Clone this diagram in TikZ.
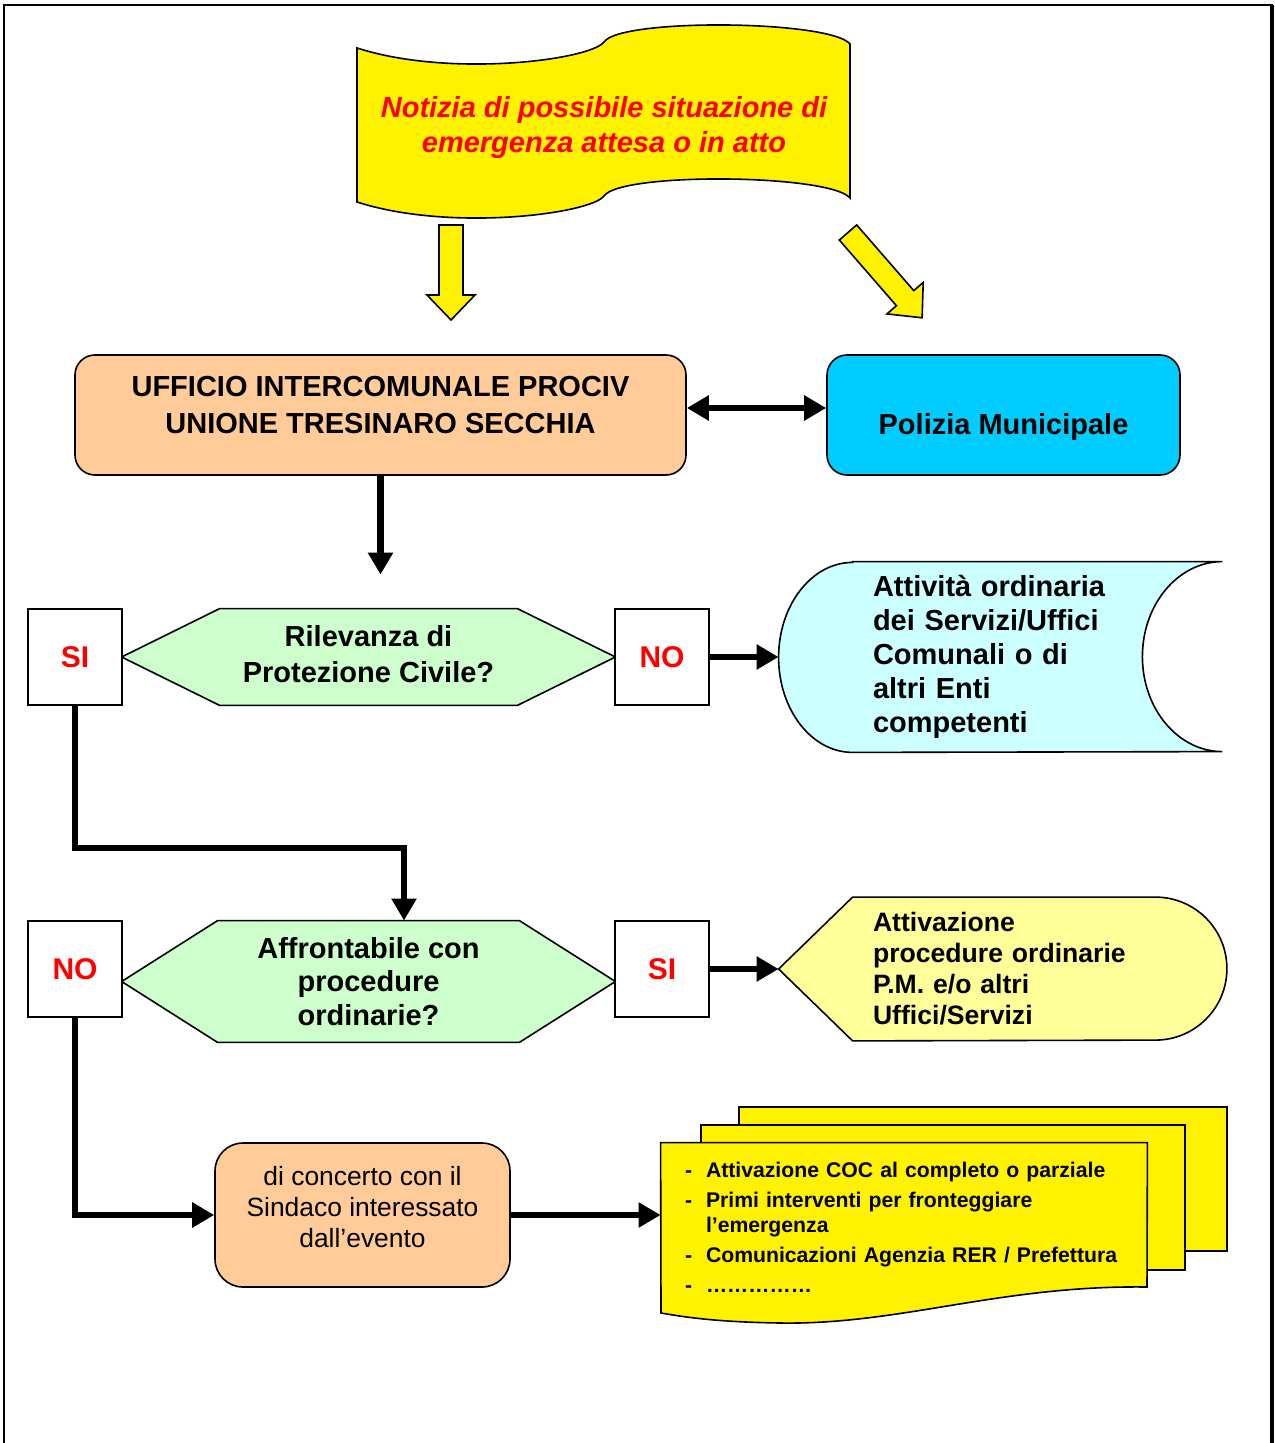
\documentclass[tikz,border=0pt]{standalone}
\usepackage{fontspec}
\setmainfont{Liberation Sans}
\usetikzlibrary{positioning,arrows.meta,backgrounds,calc}

\definecolor{peach}{HTML}{FFCC99}
\definecolor{polcyan}{HTML}{00CCFF}
\definecolor{qgreen}{HTML}{CCFFCC}
\definecolor{lcyan}{HTML}{CCFFFF}
\definecolor{lyellow}{HTML}{FFFF99}

\begin{document}
\begin{tikzpicture}[
        x=0.5pt,y=-0.5pt,
        BoxCfg/.style={
            draw,line width=0.8pt,
            rounded corners=10pt,
            align=center,
            font=\fontsize{14.5}{18.5}\selectfont\bfseries
        },
        AnsCfg/.style={
            draw,line width=0.8pt,fill=white,
            minimum width=47pt,minimum height=48pt,
            text=red,font=\fontsize{15}{18}\selectfont\bfseries
        },
        QCfg/.style={align=center,inner sep=0pt},
        ShapeCfg/.style={draw,line width=0.8pt},
        ConnCfg/.style={line width=3.2pt,-{Triangle[length=11pt,width=12pt]}},
        ArrowCfg/.style={draw,line width=0.8pt,fill=yellow}
    ]
    \useasboundingbox (0,0) rectangle (1274,1443);

    %frame
    \draw[line width=1pt] (4,1443)--(4,5)--(1272,5)--(1272,1443);
    \draw[line width=1.6pt] (1272,5)--(1272,1443);

    %notizia
    \node[QCfg,text=red,font=\fontsize{14.5}{17.5}\selectfont\bfseries\itshape] (notizia) at (604,127.5) {Notizia di possibile situazione di\\emergenza attesa o in atto};
    \coordinate (tailL) at (451,225);
    \coordinate (tailR) at (848,232.5);
    \draw[ArrowCfg,shift={(tailL)},rotate=-90] (0,-12)--(70,-12)--(70,-24)--(95,0)--(70,24)--(70,12)--(0,12)--cycle;
    \draw[ArrowCfg,shift={(tailR)},rotate=-49] (0,-11.5)--(87,-11.5)--(87,-24)--(113,0)--(87,24)--(87,11.5)--(0,11.5)--cycle;

    %ufficio / polizia
    \node[BoxCfg,fill=peach,minimum width=305.5pt,minimum height=60pt] (ufficio) at (380.5,415) {UFFICIO INTERCOMUNALE PROCIV\\UNIONE TRESINARO SECCHIA\\[-8pt]\mbox{}};
    \node[BoxCfg,fill=polcyan,minimum width=176.5pt,minimum height=60pt] (polizia) at (1003.5,415) {\raisebox{-9.7pt}[0pt][0pt]{Polizia Municipale}};

    %first question
    \node[AnsCfg] (si1) at (75,657) {SI};
    \node[QCfg,font=\fontsize{14.5}{18}\selectfont\bfseries,minimum width=246.5pt,minimum height=48pt] (rilevanza) at (368.5,657) {Rilevanza di\\Protezione Civile?\\[-15pt]\mbox{}};
    \node[AnsCfg] (no1) at (662,657) {NO};
    \node[align=left,text width=127.5pt,inner xsep=47pt,inner ysep=0pt,minimum height=95pt,font=\fontsize{14.5}{17}\selectfont\bfseries] (ordinaria) at (1000.5,657) {Attività ordinaria\\dei Servizi/Uffici\\Comunali o di\\altri Enti\\competenti};

    %second question
    \node[AnsCfg] (no2) at (75,969) {NO};
    \node[QCfg,font=\fontsize{14.5}{16.75}\selectfont\bfseries,minimum width=246.5pt,minimum height=60.5pt] (affrontabile) at (368.5,981.5) {Affrontabile con\\procedure\\ordinarie?};
    \node[AnsCfg] (si2) at (662,969) {SI};
    \node[align=left,text width=130pt,inner xsep=47pt,inner ysep=0pt,minimum height=71.5pt,font=\fontsize{13.3}{15.5}\selectfont\bfseries] (attivazione) at (1003,969) {Attivazione\\procedure ordinarie\\P.M. e/o altri\\Uffici/Servizi};

    %concerto / azioni
    \node[BoxCfg,fill=peach,rounded corners=14pt,minimum width=147.5pt,minimum height=72pt,font=\fontsize{13.2}{15.5}\selectfont] (concerto) at (362.5,1215) {di concerto con il\\Sindaco interessato\\dall’evento\\[-7.5pt]\mbox{}};
    \node[align=left,text width=219pt,inner xsep=12pt,inner ysep=0pt,minimum height=84pt,font=\fontsize{10.6}{12.5}\selectfont\bfseries] (azioni) at (904,1227) {%
        \makebox[10.5pt][l]{-}Attivazione COC al completo o parziale\\[2.5pt]
        \makebox[10.5pt][l]{-}Primi interventi per fronteggiare\\
        \hspace*{10.5pt}l’emergenza\\[2.5pt]
        \makebox[10.5pt][l]{-}Comunicazioni Agenzia RER / Prefettura\\[2.5pt]
        \makebox[10.5pt][l]{-}……………};

    %shapes behind the texts
    \begin{scope}[on background layer]
        \draw[ShapeCfg,fill=yellow] (357,48) .. controls (450,78) and (590,60) .. (604,42) .. controls (620,18) and (830,20) .. (850,44)--(850,198) .. controls (830,174) and (620,172) .. (604,196) .. controls (590,214) and (450,232) .. (357,202)--cycle;
        \draw[ShapeCfg,fill=qgreen] (rilevanza.west)--([xshift=49pt]rilevanza.north west)--([xshift=-49pt]rilevanza.north east)--(rilevanza.east)--([xshift=-49pt]rilevanza.south east)--([xshift=49pt]rilevanza.south west)--cycle;
        \draw[ShapeCfg,fill=qgreen] (affrontabile.west)--([xshift=48pt]affrontabile.north west)--([xshift=-48pt]affrontabile.north east)--(affrontabile.east)--([xshift=-48pt]affrontabile.south east)--([xshift=48pt]affrontabile.south west)--cycle;
        \draw[ShapeCfg,fill=lcyan] ([xshift=37pt]ordinaria.north west)--(ordinaria.north east) arc[start angle=90,end angle=270,x radius=40pt,y radius=47.5pt]--([xshift=37pt]ordinaria.south west) arc[start angle=-90,end angle=-270,x radius=37pt,y radius=47.5pt]--cycle;
        \draw[ShapeCfg,fill=lyellow] (attivazione.west)--([xshift=37pt]attivazione.north west)--([xshift=-36pt]attivazione.north east) arc[start angle=90,end angle=-90,radius=35.75pt]--([xshift=37pt]attivazione.south west)--cycle;
        \draw[ShapeCfg,fill=yellow] (739,1107) rectangle (1227,1251);
        \draw[ShapeCfg,fill=yellow] (701,1125) rectangle (1185,1270);
        \draw[ShapeCfg,fill=yellow] (azioni.north west)--(azioni.north east)--(1147,1287) .. controls (1000,1285) and (900,1325) .. (780,1323) .. controls (720,1322) and (690,1318) .. (661,1313)--cycle;
    \end{scope}

    %connections
    \draw[line width=3.2pt,{Triangle[length=11pt,width=12pt]}-{Triangle[length=11pt,width=12pt]}] ([yshift=3.5pt]ufficio.east)--([yshift=3.5pt]polizia.west);
    \draw[ConnCfg,shorten >=17pt] (ufficio.south)--(ufficio.south |- rilevanza.north);
    \draw[ConnCfg] (no1.east)--(ordinaria.west);
    \coordinate (knee) at (404,848);
    \draw[ConnCfg] (si1.south) |- (knee)--(knee |- affrontabile.north);
    \draw[ConnCfg] (si2.east)--(attivazione.west);
    \draw[ConnCfg] (no2.south) |- (concerto.west);
    \draw[ConnCfg] (concerto.east)--(concerto.east -| azioni.west);

\end{tikzpicture}
\end{document}
